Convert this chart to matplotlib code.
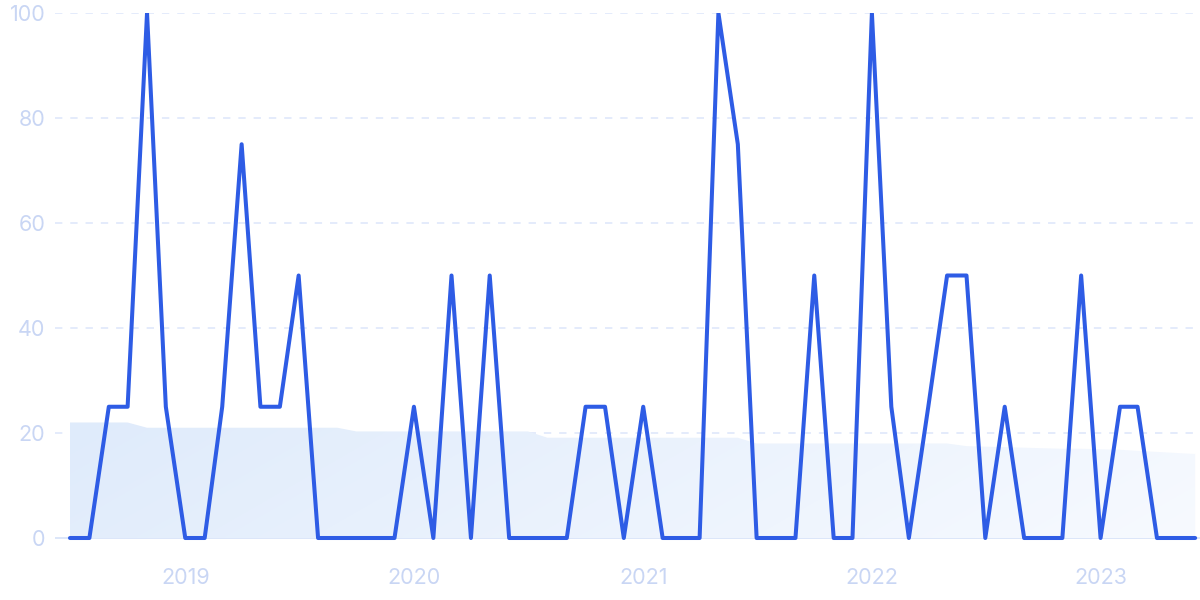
import numpy as np
import pandas as pd
import matplotlib
matplotlib.use("Agg")
import matplotlib.pyplot as plt
import matplotlib.dates as mdates
from matplotlib.patches import PathPatch
from matplotlib.path import Path

plt.rcParams['font.family'] = ['Inter', 'DejaVu Sans']

# ---- data ----
start_month = "2018-07-01"
n_months = 60
interest = [0, 0, 25, 25, 100, 25, 0, 0, 25, 75, 25, 25, 50, 0, 0, 0, 0, 0,
            25, 0, 50, 0, 50, 0, 0, 0, 0, 25, 25, 0, 25, 0, 0, 0, 100, 75,
            0, 0, 0, 50, 0, 0, 100, 25, 0, 25, 50, 50, 0, 25, 0, 0, 0, 50,
            0, 25, 25, 0, 0, 0]
trend = [22, 22, 22, 22, 21, 21, 21, 21, 21, 21, 21, 21, 21, 21, 21,
         20.3, 20.3, 20.3, 20.3, 20.3, 20.3, 20.3, 20.3, 20.3, 20.3,
         19.1, 19.1, 19.1, 19.1, 19.1, 19.1, 19.1, 19.1, 19.1, 19.1, 19.1,
         18, 18, 18, 18, 18, 18, 18, 18, 18, 18, 18,
         17.5, 17.4, 17.3, 17.2, 17.1, 17.0, 17.0, 16.9, 16.8, 16.6, 16.4, 16.2, 16.0]
y_ticks = [0, 20, 40, 60, 80, 100]
year_ticks = ["2019", "2020", "2021", "2022", "2023"]

dates = pd.date_range(start_month, periods=n_months, freq="MS")
xd = mdates.date2num(dates.to_pydatetime())

fig = plt.figure(figsize=(12, 6), dpi=100)
ax = fig.add_axes([55/1200, (600-548.5)/600, 1145/1200, 535.5/600])

x0 = mdates.date2num(pd.Timestamp(start_month).to_pydatetime())
ax.set_xlim(x0 - 23.9, x0 + 1803.7)
ax.set_ylim(-2, 100)

# gradient filled area
poly_x = np.concatenate([xd, xd[::-1]])
poly_y = np.concatenate([np.array(trend, float), np.zeros(len(xd))])
verts = np.column_stack([poly_x, poly_y])
path = Path(verts, closed=False)
patch = PathPatch(path, facecolor='none', edgecolor='none', transform=ax.transData)
ax.add_patch(patch)
c_left = np.array([223, 235, 251]) / 255
c_right = np.array([247, 250, 255]) / 255
nx, ny = 600, 60
tx = np.linspace(0, 1, nx)[None, :]
ty = np.linspace(0, 1, ny)[:, None]
tt = np.clip(0.85 * tx + 0.15 * (1 - ty), 0, 1)
grad = c_left[None, None, :] * (1 - tt[..., None]) + c_right[None, None, :] * tt[..., None]
im = ax.imshow(grad, extent=[xd[0], xd[-1], 0, max(trend)], aspect='auto',
               origin='lower', zorder=1, interpolation='bilinear')
im.set_clip_path(patch)

# gridlines
grid_color = '#DCE6FA'
for v in y_ticks:
    if v == 0:
        ax.axhline(v, color='#D6E2F8', lw=1.2, zorder=0.5)
    else:
        ax.axhline(v, color=grid_color, lw=1.1, ls=(0, (4.8, 5.2)), zorder=0.5)

# main line
ax.plot(xd, interest, color='#2E5CE5', lw=2.9, solid_joinstyle='round',
        solid_capstyle='round', zorder=3, clip_on=True)

for s in ax.spines.values():
    s.set_visible(False)

ax.set_yticks(y_ticks)
ax.set_yticklabels([str(v) for v in y_ticks])
year_pos = [mdates.date2num(pd.Timestamp(f"{y}-01-01").to_pydatetime()) for y in year_ticks]
ax.set_xticks(year_pos)
ax.set_xticklabels(year_ticks)
ax.tick_params(axis='both', length=0, labelsize=15.5, labelcolor='#C9D6F4')
ax.tick_params(axis='y', pad=7)
ax.tick_params(axis='x', pad=14)

fig.savefig("out.png", dpi=100)
